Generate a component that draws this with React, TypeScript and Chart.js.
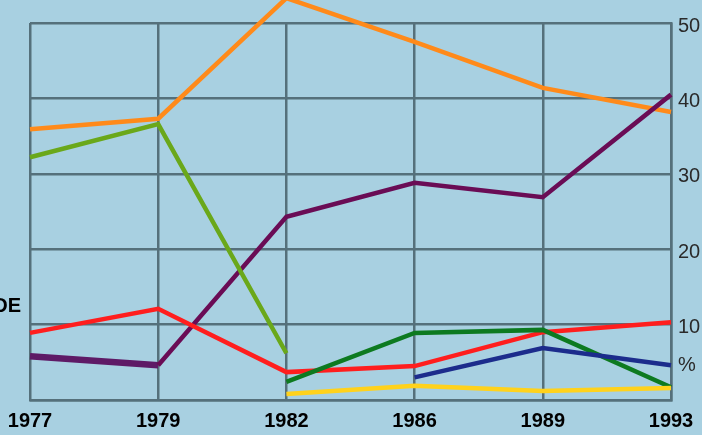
import React, { useEffect, useRef } from "react";
import { Chart, registerables } from "chart.js";

Chart.register(...registerables);

const years = ["1977", "1979", "1982", "1986", "1989", "1993"];
const orangeSeries = [35.9, 37.3, 53.3, 47.5, 41.4, 38.2];
const lightGreenSeries = [32.2, 36.6, 6.2, null, null, null];
const purpleSeries = [5.8, 4.6, 24.3, 28.8, 26.9, 40.5];
const redSeries = [8.9, 12.1, 3.7, 4.5, 9.0, 10.3];
const darkGreenSeries = [null, null, 2.4, 8.9, 9.3, 1.7];
const blueSeries = [null, null, null, 3.0, 6.9, 4.6];
const yellowSeries = [null, null, 0.8, 1.9, 1.2, 1.6];

const GRID = "#55707b";
const BG = "#a8d0e1";

export default function App() {
  const ref = useRef<HTMLCanvasElement>(null);
  useEffect(() => {
    document.body.style.margin = "0";
    const ds = (data: (number | null)[], color: string, extra: any = {}) => ({
      data,
      borderColor: color,
      backgroundColor: color,
      borderWidth: 4.5,
      pointRadius: 0,
      tension: 0,
      clip: false as any,
      spanGaps: false,
      ...extra,
    });
    const chart = new Chart(ref.current!, {
      type: "line",
      data: {
        labels: years,
        datasets: [
          ds(yellowSeries, "#ffd21c"),
          ds(blueSeries, "#1c2c8c"),
          ds(darkGreenSeries, "#0d7a20"),
          ds(redSeries, "#ff1e1e"),
          ds(lightGreenSeries, "#6aa81a"),
          ds(purpleSeries, "#6a0c55", {
            segment: {
              borderWidth: (c: any) => (c.p0DataIndex === 0 ? 6.5 : 4.5),
              borderColor: (c: any) => (c.p0DataIndex === 0 ? "#5e1a66" : "#6a0c55"),
            },
          }),
          ds(orangeSeries, "#ff8a1a"),
        ],
      },
      options: {
        animation: false,
        responsive: false,
        maintainAspectRatio: false,
        layout: { padding: { top: 23, left: 30, right: 0, bottom: 0 } },
        plugins: { legend: { display: false }, tooltip: { enabled: false } },
        scales: {
          x: {
            type: "category",
            offset: false,
            grid: { color: GRID, lineWidth: 2.5, drawTicks: false, offset: false },
            border: { display: true, color: GRID, width: 2.5 },
            ticks: {
              color: "#000",
              font: { family: "Liberation Sans, Arial", size: 20, weight: "bold" },
              padding: 9,
              maxRotation: 0,
              autoSkip: false,
            },
            afterFit: (s: any) => {
              s.height = 35;
              s.paddingLeft = 0;
              s.paddingRight = 0;
            },
          },
          y: {
            position: "right",
            min: 0,
            max: 50,
            grid: {
              color: (c: any) => (c.tick && c.tick.value % 10 === 0 ? GRID : "rgba(0,0,0,0)"),
              lineWidth: 2.5,
              drawTicks: false,
            },
            border: { display: true, color: GRID, width: 2.5 },
            ticks: {
              stepSize: 5,
              color: "#2a2a2a",
              font: { family: "Liberation Sans, Arial", size: 20 },
              padding: 7,
              labelOffset: 3,
              callback: (v: any) => {
                const n = Number(v);
                if (n === 5) return "%";
                if (n > 0 && n % 10 === 0) return String(n);
                return "";
              },
            },
            afterFit: (s: any) => {
              s.width = 31;
              s.paddingTop = 0;
              s.paddingBottom = 0;
            },
          },
        },
      },
    });
    return () => chart.destroy();
  }, []);
  return (
    <div style={{ position: "fixed", left: 0, top: 0, width: 702, height: 435, background: BG, overflow: "hidden" }}>
      <canvas ref={ref} width={702} height={435} style={{ display: "block" }} />
      <div
        style={{
          position: "absolute",
          right: 681,
          top: 294,
          fontFamily: "Liberation Sans, Arial",
          fontWeight: 900,
          fontSize: 20,
          color: "#000",
          whiteSpace: "nowrap",
        }}
      >
        DE
      </div>
    </div>
  );
}
